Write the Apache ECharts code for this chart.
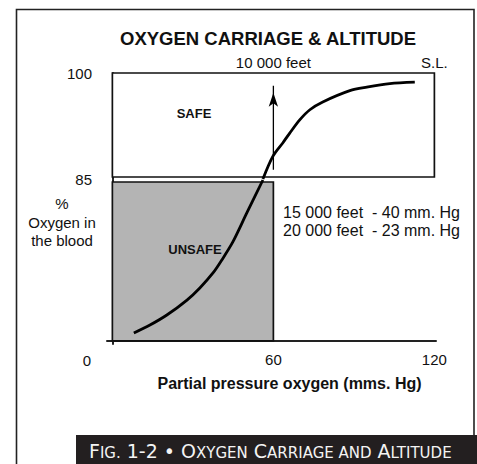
<!DOCTYPE html>
<html>
<head>
<meta charset="utf-8">
<script src="https://cdn.jsdelivr.net/npm/echarts@6/dist/echarts.min.js"></script>
<style>html,body{margin:0;padding:0;background:#fff}#c{width:477px;height:464px}</style>
</head>
<body>
<div id="c"></div>
<script>
// ---- data ----
const pressure   = [8, 14, 20.3, 27.8, 32.6, 37.5, 40.8, 44.9, 50.1, 56.1, 59.8, 63.5, 66.1, 69.9, 73.6, 78.4, 88.5, 94.8, 103.4, 112.7];
const saturation = [4.2, 8.4, 13.7, 21.6, 28, 35.9, 42.8, 52.3, 67.6, 85, 88.2, 90.1, 91.5, 93.4, 94.8, 95.9, 97.5, 98, 98.5, 98.7];
const threshold = 85;
const safeZone   = [0, 120, 85, 100];   // x0, x1, y0, y1
const unsafeZone = [0, 60, 0, 85];
const xTickValues = [60, 120];
const yTickValuesTop = [85, 100];
const yTickValuesBottom = [0];
const altitudeX = [60, 120];
const altitudeLabels = ['10 000 feet', 'S.L.'];
const arrowX = 60;
const arrowY = [86.3, 98.2];
const altitudeNotes = ['15 000 feet\u00a0 - 40 mm. Hg', '20 000 feet\u00a0 - 23 mm. Hg'];

const FONT = "'Liberation Sans', Arial, Helvetica, sans-serif";

const pts = pressure.map((x, i) => [x, saturation[i]]);
const lowPts = pts.filter(p => p[1] <= threshold);
const highPts = pts.filter(p => p[1] >= threshold);

function boxRender(insetTop, insetBottom, fill) {
  return function (params, api) {
    const p0 = api.coord([api.value(0), api.value(3)]);
    const p1 = api.coord([api.value(1), api.value(2)]);
    return {
      type: 'rect',
      shape: { x: p0[0], y: p0[1] + insetTop, width: p1[0] - p0[0], height: p1[1] - p0[1] - insetTop - insetBottom },
      style: { fill: fill, stroke: '#111', lineWidth: 1.7 }
    };
  };
}

const chart = echarts.init(document.getElementById('c'), null, { renderer: 'svg' });
const axisLine = { show: true, lineStyle: { color: '#222', width: 2 } };
const labelStyle = { color: '#111', fontSize: 15, fontFamily: FONT };
const capFont = 'DejaVu Sans';

chart.setOption({
  animation: false,
  backgroundColor: '#fff',
  title: {
    text: '{b|F}{s|IG.}{b| 1-2 • O}{s|XYGEN}{b| C}{s|ARRIAGE AND}{b| A}{s|LTITUDE}',
    left: 89, top: 440, z: 30, padding: 0,
    textStyle: {
      fontWeight: 'normal',
      rich: {
        b: { color: '#f4f4f4', fontSize: 19, fontWeight: 'normal', fontFamily: capFont, verticalAlign: 'bottom', lineHeight: 20 },
        s: { color: '#f4f4f4', fontSize: 15, fontWeight: 'normal', fontFamily: capFont, verticalAlign: 'bottom', lineHeight: 20 }
      }
    }
  },
  grid: [
    { left: 107, width: 329, top: 73, height: 106 },
    { left: 107, width: 329, top: 180, height: 164 }
  ],
  xAxis: [
    { gridIndex: 0, type: 'value', min: -2, max: 120.6, position: 'top',
      axisLine: { show: false }, axisTick: { show: false }, splitLine: { show: false },
      axisLabel: Object.assign({ customValues: altitudeX, margin: 3,
        formatter: v => altitudeLabels[altitudeX.indexOf(v)] }, labelStyle) },
    { gridIndex: 1, type: 'value', min: -2, max: 120.6,
      axisLine: axisLine, axisTick: { show: false }, splitLine: { show: false },
      axisLabel: Object.assign({ customValues: xTickValues, margin: 8 }, labelStyle),
      name: 'Partial pressure oxygen (mms. Hg)', nameLocation: 'middle', nameGap: 31,
      nameTextStyle: { fontFamily: FONT, fontWeight: 'bold', fontSize: 16, color: '#111', padding: [0, 0, 0, 36] } }
  ],
  yAxis: [
    { gridIndex: 0, type: 'value', min: 85, max: 100,
      axisLine: axisLine, axisTick: { show: false }, splitLine: { show: false },
      axisLabel: Object.assign({ customValues: yTickValuesTop, margin: 15 }, labelStyle) },
    { gridIndex: 1, type: 'value', min: -1.6, max: 85,
      axisLine: axisLine, axisTick: { show: false }, splitLine: { show: false },
      axisLabel: Object.assign({ customValues: yTickValuesBottom, margin: 16,
        verticalAlign: 'top', lineHeight: 40 }, labelStyle) }
  ],
  series: [
    { type: 'custom', xAxisIndex: 0, yAxisIndex: 0, z: 1, encode: { x: [0, 1], y: [2, 3] },
      data: [safeZone], renderItem: boxRender(0, 2, '#fff') },
    { type: 'custom', xAxisIndex: 1, yAxisIndex: 1, z: 1, encode: { x: [0, 1], y: [2, 3] },
      data: [unsafeZone], renderItem: boxRender(2, 0, '#b4b4b4') },
    { type: 'line', xAxisIndex: 0, yAxisIndex: 0, z: 3, smooth: 0.3, showSymbol: false,
      lineStyle: { color: '#000', width: 2.8 }, data: highPts },
    { type: 'line', xAxisIndex: 1, yAxisIndex: 1, z: 3, smooth: 0.3, showSymbol: false,
      lineStyle: { color: '#000', width: 2.8 }, data: lowPts },
    { type: 'line', xAxisIndex: 0, yAxisIndex: 0, z: 4, lineStyle: { color: '#000', width: 1.3 },
      itemStyle: { color: '#000' },
      data: [
        { value: [arrowX, arrowY[0]], symbol: 'none' },
        { value: [arrowX, arrowY[1]], symbol: 'arrow', symbolSize: [7, 14], symbolOffset: [0, '50%'] }
      ] }
  ],
  graphic: [
    { type: 'rect', z: 0, shape: { x: 16.5, y: 9.5, width: 457.5, height: 500 },
      style: { fill: 'none', stroke: '#222', lineWidth: 1.6 } },
    { type: 'text', x: 268, y: 38, style: { text: 'OXYGEN CARRIAGE & ALTITUDE', fill: '#111',
      font: 'bold 18.5px ' + FONT, align: 'center', verticalAlign: 'middle' } },
    { type: 'text', x: 62, y: 222, style: { text: '%\nOxygen in\nthe blood', fill: '#111',
      font: '15px ' + FONT, lineHeight: 18.5, align: 'center', verticalAlign: 'middle' } },
    { type: 'text', x: 194, y: 113, z: 10, style: { text: 'SAFE', fill: '#111',
      font: 'bold 13px ' + FONT, align: 'center', verticalAlign: 'middle' } },
    { type: 'text', x: 195, y: 249, z: 10, style: { text: 'UNSAFE', fill: '#111',
      font: 'bold 13px ' + FONT, align: 'center', verticalAlign: 'middle' } },
    { type: 'text', x: 283, y: 221, style: { text: altitudeNotes.join('\n'), fill: '#111',
      font: '16px ' + FONT, lineHeight: 18, align: 'left', verticalAlign: 'middle' } },
    { type: 'rect', z: 5, shape: { x: 76, y: 435, width: 401, height: 29 }, style: { fill: '#231f20' } }
  ]
});
</script>
</body>
</html>
